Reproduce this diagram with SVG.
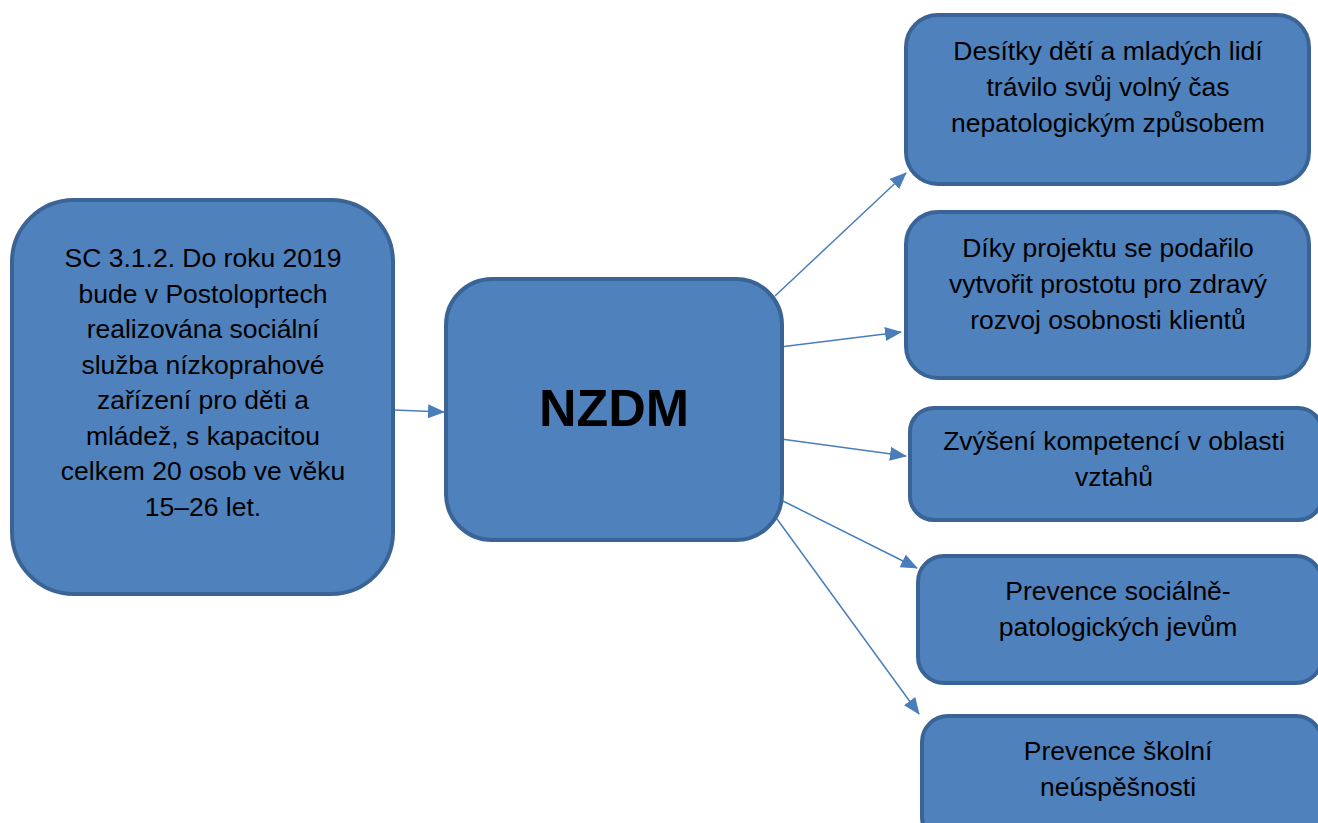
<svg xmlns="http://www.w3.org/2000/svg" width="1318" height="823" viewBox="0 0 1318 823">
<style>
.box{fill:#4f81bd;stroke:#3b6496;stroke-width:4}
.t{font-family:"Liberation Sans",Arial,sans-serif;font-size:26.5px;fill:#000;text-anchor:middle}
.big{font-family:"Liberation Sans",Arial,sans-serif;font-size:52px;font-weight:bold;fill:#000;text-anchor:middle}
.c{stroke:#4a7ebb;stroke-width:1.5;fill:none;marker-end:url(#ah)}
</style>
<defs>
<marker id="ah" markerUnits="userSpaceOnUse" markerWidth="18" markerHeight="14" refX="16" refY="7" orient="auto">
<path d="M0,0 L17,7 L0,14 Z" fill="#4a7ebb"/>
</marker>
</defs>
<rect width="1318" height="823" fill="#fff"/>
<g id="connectors">
<line class="c" x1="394" y1="410" x2="444" y2="412"/>
<line class="c" x1="775" y1="296" x2="906" y2="173"/>
<line class="c" x1="780" y1="347" x2="901" y2="332"/>
<line class="c" x1="781" y1="439" x2="906" y2="456"/>
<line class="c" x1="783" y1="501" x2="917" y2="568"/>
<line class="c" x1="777" y1="519" x2="919" y2="714"/>
</g>
<g id="source">
<rect class="box" x="12" y="200" width="381" height="394" rx="62"/>
<text class="t" y="267"><tspan x="203">SC 3.1.2. Do roku 2019</tspan><tspan x="203" dy="35.5">bude v Postoloprtech</tspan><tspan x="203" dy="35.5">realizována sociální</tspan><tspan x="203" dy="35.5">služba nízkoprahové</tspan><tspan x="203" dy="35.5">zařízení pro děti a</tspan><tspan x="203" dy="35.5">mládež, s kapacitou</tspan><tspan x="203" dy="35.5">celkem 20 osob ve věku</tspan><tspan x="203" dy="35.5">15–26 let.</tspan></text>
</g>
<g id="nzdm">
<rect class="box" x="446" y="279" width="336" height="261" rx="46"/>
<text class="big" x="614" y="426">NZDM</text>
</g>
<g id="n1">
<rect class="box" x="906" y="15" width="403" height="169" rx="32"/>
<text class="t" y="60"><tspan x="1108">Desítky dětí a mladých lidí</tspan><tspan x="1108" dy="36">trávilo svůj volný čas</tspan><tspan x="1108" dy="36">nepatologickým způsobem</tspan></text>
</g>
<g id="n2">
<rect class="box" x="906" y="212" width="403" height="166" rx="32"/>
<text class="t" y="257"><tspan x="1108">Díky projektu se podařilo</tspan><tspan x="1108" dy="36">vytvořit prostotu pro zdravý</tspan><tspan x="1108" dy="36">rozvoj osobnosti klientů</tspan></text>
</g>
<g id="n3">
<rect class="box" x="910" y="408" width="412" height="112" rx="24"/>
<text class="t" y="450"><tspan x="1114">Zvýšení kompetencí v oblasti</tspan><tspan x="1114" dy="36">vztahů</tspan></text>
</g>
<g id="n4">
<rect class="box" x="918" y="556" width="404" height="127" rx="26"/>
<text class="t" y="600"><tspan x="1118">Prevence sociálně-</tspan><tspan x="1118" dy="35.5">patologických jevům</tspan></text>
</g>
<g id="n5">
<rect class="box" x="922" y="716" width="400" height="127" rx="26"/>
<text class="t" y="760"><tspan x="1118">Prevence školní</tspan><tspan x="1118" dy="35.5">neúspěšnosti</tspan></text>
</g>
</svg>
